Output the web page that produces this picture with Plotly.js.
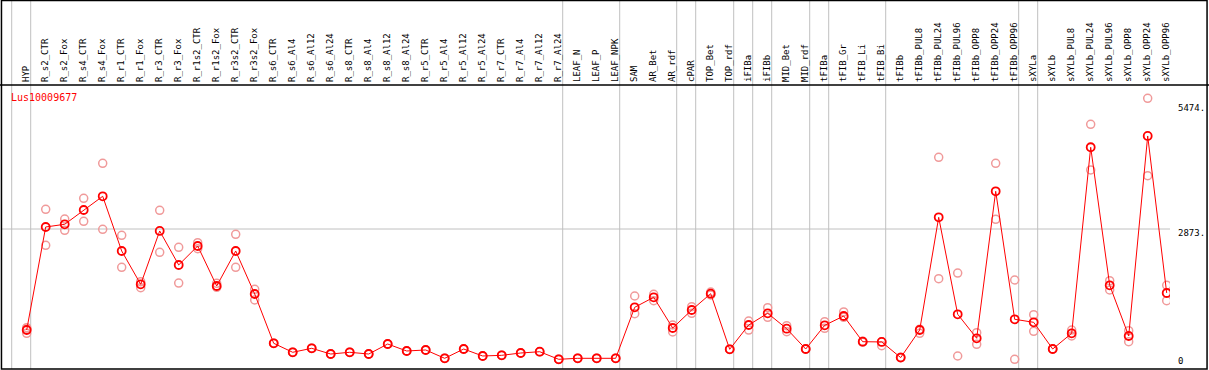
<!DOCTYPE html>
<html>
<head>
<meta charset="utf-8">
<script src="https://cdn.plot.ly/plotly-3.0.1.min.js"></script>
<style>html,body{margin:0;padding:0;background:#fff;}#chart{width:1209px;height:370px;}</style>
</head>
<body>
<div id="chart"></div>
<script>
const geneName = "Lus10009677";

const categories = ["HYP","R_s2_CTR","R_s2_Fox","R_s4_CTR","R_s4_Fox","R_r1_CTR","R_r1_Fox","R_r3_CTR","R_r3_Fox",
  "R_r1s2_CTR","R_r1s2_Fox","R_r3s2_CTR","R_r3s2_Fox","R_s6_CTR","R_s6_Al4","R_s6_Al12","R_s6_Al24",
  "R_s8_CTR","R_s8_Al4","R_s8_Al12","R_s8_Al24","R_r5_CTR","R_r5_Al4","R_r5_Al12","R_r5_Al24",
  "R_r7_CTR","R_r7_Al4","R_r7_Al12","R_r7_Al24","LEAF_N","LEAF_P","LEAF_NPK","SAM","AR_Bet","AR_rdf",
  "cPAR","TOP_Bet","TOP_rdf","iFIBa","iFIBb","MID_Bet","MID_rdf","tFIBa","tFIB_Gr","tFIB_Li","tFIB_Bi",
  "tFIBb","tFIBb_PUL8","tFIBb_PUL24","tFIBb_PUL96","tFIBb_OPP8","tFIBb_OPP24","tFIBb_OPP96",
  "sXYLa","sXYLb","sXYLb_PUL8","sXYLb_PUL24","sXYLb_PUL96","sXYLb_OPP8","sXYLb_OPP24","sXYLb_OPP96"];

// sizes of the sample groups separated by grey vertical lines
const groupSizes = [1,28,3,3,1,2,1,1,2,1,3,7,1,7];

const meanValues = [773,2915,2971,3268,3553,2416,1723,2832,2125,
  2520,1688,2416,1522,497,310,393,274,
  310,274,482,337,358,185,378,233,
  247,295,322,164,185,185,185,1245,1453,815,
  1189,1528,372,877,1121,800,378,871,1064,530,525,
  200,773,3116,1100,601,3657,996,
  933,378,705,4572,1703,649,4807,1543];

const replicateA = [821,3283,3081,3511,4239,2742,1778,3262,2493,
  2588,1744,2763,1620,497,310,393,274,
  310,274,482,337,358,185,378,233,
  247,295,322,164,185,185,185,1480,1516,877,
  1258,1563,372,960,1237,863,378,946,1148,540,530,
  206,790,4364,1958,717,4239,1813,
  1092,378,773,5050,1798,759,5590,1703];

const replicateB = [705,2534,2846,3033,2867,2077,1653,2389,1750,
  2464,1661,2077,1397,497,310,393,274,
  310,274,482,337,358,185,378,233,
  247,295,322,164,185,185,185,1112,1383,732,
  1121,1501,372,773,1037,738,378,809,1037,520,447,
  200,705,1840,233,476,3075,164,
  746,378,649,4100,1605,530,3981,1383];

const replicateC = [793];

const yTickValues = [0, 2873, 5474];
const yTickLabels = ["0", "2873.", "5474."];
const gridValues = [2873];

const idx = categories.map((c, i) => i);

const repX = idx.concat(idx).concat([0]);
const repY = replicateA.concat(replicateB).concat(replicateC);

const traces = [
  {x: repX, y: repY, type: "scatter", mode: "markers", hoverinfo: "skip",
   marker: {symbol: "circle-open", size: 8, color: "#f09a9a", line: {width: 1.5, color: "#f09a9a"}}},
  {x: idx, y: meanValues, type: "scatter", mode: "lines+markers",
   line: {color: "#ff0000", width: 1},
   marker: {symbol: "circle-open", size: 8, color: "#ff0000", line: {width: 1.8, color: "#ff0000"}}}
];

const shapes = [];
// group separators
let cum = -1;
const seps = [cum];
groupSizes.forEach(s => { cum += s; seps.push(cum); });
seps.forEach(s => {
  shapes.push({type: "line", xref: "x", yref: "paper", x0: s + 0.21, x1: s + 0.21, y0: 0, y1: 1.3,
    line: {color: "#c0c0c0", width: 1}, layer: "below"});
});
gridValues.forEach(v => {
  shapes.push({type: "line", xref: "paper", yref: "y", x0: 0, x1: 1, y0: v, y1: v,
    line: {color: "#c0c0c0", width: 1}, layer: "below"});
});
// header divider and frame
shapes.push({type: "line", xref: "paper", yref: "paper", x0: -0.002, x1: 1.034, y0: 1.0, y1: 1.0,
  line: {color: "#000", width: 1.5}});
shapes.push({type: "rect", xref: "paper", yref: "paper", x0: 0.0004, x1: 1.0317, y0: 0.0, y1: 1.2975,
  line: {color: "#000", width: 1.5}, fillcolor: "rgba(0,0,0,0)"});

const annotations = [{
  xref: "paper", yref: "paper", x: 0.0068, y: 0.9577, xanchor: "left", yanchor: "middle",
  text: geneName, showarrow: false, font: {family: "DejaVu Sans Mono", size: 10, color: "#ff0000"}
}];
yTickValues.forEach((v, i) => {
  annotations.push({xref: "paper", yref: "y", x: 1, y: v, xanchor: "left", yanchor: "middle",
    xshift: 6, yshift: v === 0 ? 6 : -4, text: yTickLabels[i], showarrow: false,
    font: {family: "DejaVu Sans Mono", size: 9, color: "#000"}});
});

const layout = {
  width: 1209, height: 370,
  margin: {l: 1, r: 39, t: 85, b: 1, pad: 0},
  paper_bgcolor: "#fff", plot_bgcolor: "#fff",
  showlegend: false,
  xaxis: {
    range: [-1.3526, 60.174], side: "top", tickmode: "array", tickvals: idx, ticktext: categories,
    tickangle: -90, ticks: "", showgrid: false, zeroline: false, showline: false,
    tickfont: {family: "DejaVu Sans Mono", size: 9, color: "#000"}, ticklabelshift: -1, ticklabelstandoff: 2
  },
  yaxis: {
    range: [-37.4, 5866.6], showgrid: false, zeroline: false, showline: false, showticklabels: false, ticks: ""
  },
  shapes: shapes,
  annotations: annotations
};

Plotly.newPlot("chart", traces, layout, {displayModeBar: false, staticPlot: true});
</script>
</body>
</html>
